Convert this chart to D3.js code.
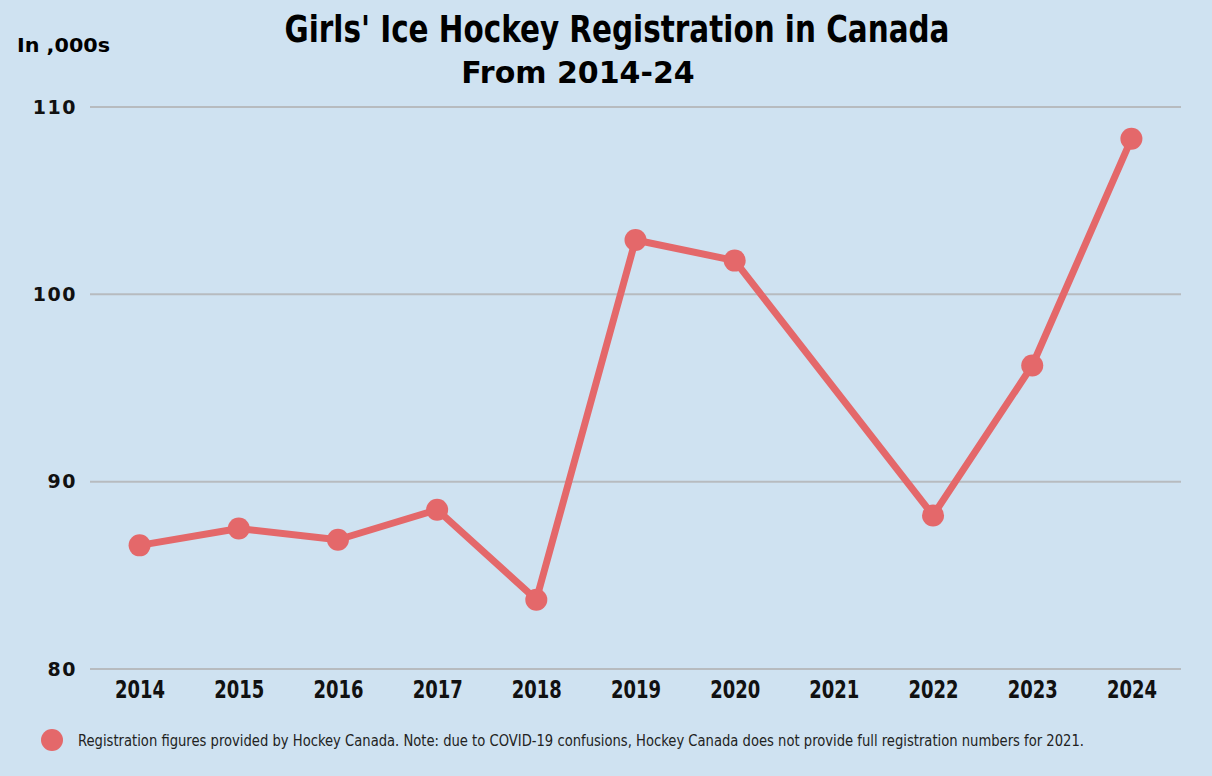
<!DOCTYPE html>
<html>
<head>
<meta charset="utf-8">
<script src="https://cdn.jsdelivr.net/npm/d3@7"></script>
<style>
  body { margin: 0; background: #cfe2f1; }
</style>
</head>
<body>
<div id="root"></div>
<script>
// registration, thousands (2021 not reported)
var years = ['2014', '2015', '2016', '2017', '2018', '2019', '2020', '2021', '2022', '2023', '2024'];
var registrations = [86.6, 87.5, 86.9, 88.5, 83.7, 102.9, 101.8, null, 88.2, 96.2, 108.3];
var yTicks = [80, 90, 100, 110];

var width = 1212, height = 776;
var margin = { top: 107, right: 31, bottom: 107, left: 90 };
var narrow = '"Liberation Sans Narrow", "DejaVu Sans Condensed", sans-serif';

var data = years.map((y, i) => ({ year: y, value: registrations[i] }));
var known = data.filter(d => d.value != null);

var svg = d3.select('#root')
  .append('svg')
    .attr('width', width)
    .attr('height', height);

svg.append('rect')
  .attr('width', width)
  .attr('height', height)
  .attr('fill', '#cfe2f1');

var x = d3.scalePoint()
  .domain(years)
  .range([margin.left, width - margin.right])
  .padding(0.5);

var y = d3.scaleLinear()
  .domain([80, 110])
  .range([height - margin.bottom, margin.top]);

// gridlines
svg.append('g')
  .selectAll('line')
  .data(yTicks)
  .enter()
  .append('line')
    .attr('x1', margin.left)
    .attr('x2', width - margin.right)
    .attr('y1', d => y(d))
    .attr('y2', d => y(d))
    .attr('stroke', '#b7bbbf')
    .attr('stroke-width', 2);

// y axis labels
var yAxis = svg.append('g')
  .attr('transform', 'translate(' + (margin.left - 13) + ',0)')
  .call(d3.axisLeft(y).tickValues(yTicks).tickSize(0).tickPadding(0));
yAxis.select('.domain').remove();
yAxis.selectAll('text')
  .attr('font-family', 'DejaVu Sans')
  .attr('font-weight', 'bold')
  .attr('font-size', 19)
  .attr('letter-spacing', 1.5)
  .attr('fill', '#111');

// x axis labels
var xAxis = svg.append('g')
  .attr('transform', 'translate(0,' + (height - margin.bottom) + ')')
  .call(d3.axisBottom(x).tickSize(0).tickPadding(12));
xAxis.select('.domain').remove();
xAxis.selectAll('text')
  .attr('font-family', narrow)
  .attr('font-weight', 'bold')
  .attr('font-size', 24)
  .attr('textLength', 50)
  .attr('lengthAdjust', 'spacingAndGlyphs')
  .attr('fill', '#111');

var line = d3.line()
  .x(d => x(d.year))
  .y(d => y(d.value));

svg.append('path')
  .datum(known)
  .attr('d', line)
  .attr('fill', 'none')
  .attr('stroke', '#e4686a')
  .attr('stroke-width', 7)
  .attr('stroke-linejoin', 'round');

svg.selectAll('circle.pt')
  .data(known)
  .enter()
  .append('circle')
    .attr('class', 'pt')
    .attr('cx', d => x(d.year))
    .attr('cy', d => y(d.value))
    .attr('r', 11)
    .attr('fill', '#e4686a');

// titles
svg.append('text')
  .attr('x', 617)
  .attr('y', 42)
  .attr('text-anchor', 'middle')
  .attr('font-family', narrow)
  .attr('font-weight', 'bold')
  .attr('font-size', 38)
  .attr('textLength', 665)
  .attr('lengthAdjust', 'spacingAndGlyphs')
  .text("Girls' Ice Hockey Registration in Canada");

svg.append('text')
  .attr('x', 578)
  .attr('y', 83)
  .attr('text-anchor', 'middle')
  .attr('font-family', 'DejaVu Sans')
  .attr('font-weight', 'bold')
  .attr('font-size', 30)
  .text('From 2014-24');

svg.append('text')
  .attr('x', 17)
  .attr('y', 52)
  .attr('font-family', narrow)
  .attr('font-weight', 'bold')
  .attr('font-size', 20)
  .attr('textLength', 93)
  .attr('lengthAdjust', 'spacingAndGlyphs')
  .text('In ,000s');

// legend
svg.append('circle')
  .attr('cx', 52)
  .attr('cy', 740)
  .attr('r', 11)
  .attr('fill', '#e4686a');

svg.append('text')
  .attr('x', 78)
  .attr('y', 746)
  .attr('font-family', '"DejaVu Sans Condensed", sans-serif')
  .attr('font-size', 15)
  .attr('textLength', 1006)
  .attr('lengthAdjust', 'spacingAndGlyphs')
  .attr('fill', '#222')
  .text('Registration figures provided by Hockey Canada. Note: due to COVID-19 confusions, Hockey Canada does not provide full registration numbers for 2021.');
</script>
</body>
</html>
